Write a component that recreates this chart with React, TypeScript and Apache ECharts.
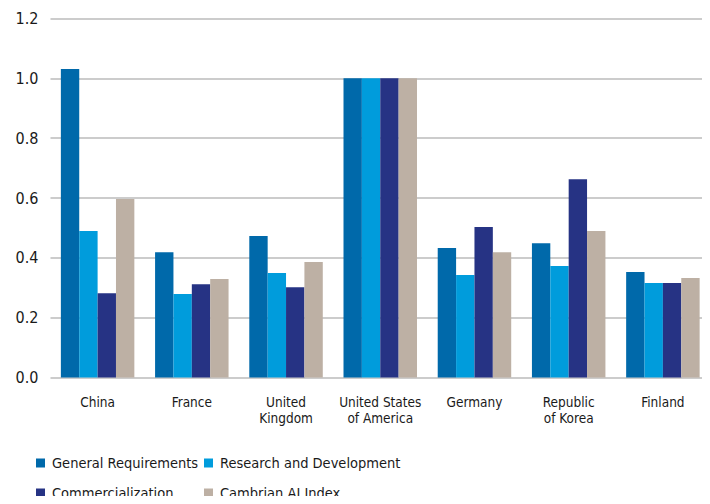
import React, { useEffect, useRef } from "react";
import * as echarts from "echarts";

const categories = [
  "China",
  "France",
  "United\nKingdom",
  "United States\nof America",
  "Germany",
  "Republic\nof Korea",
  "Finland",
];
const seriesNames = [
  "General Requirements",
  "Research and Development",
  "Commercialization",
  "Cambrian AI Index",
];
const generalRequirements = [1.031, 0.419, 0.473, 1.0, 0.433, 0.449, 0.353];
const researchDevelopment = [0.49, 0.279, 0.349, 1.0, 0.343, 0.373, 0.316];
const commercialization = [0.282, 0.312, 0.302, 1.0, 0.503, 0.663, 0.316];
const cambrianIndex = [0.597, 0.329, 0.386, 1.0, 0.419, 0.49, 0.333];
const colors = ["#0069aa", "#009cdc", "#263384", "#bdb0a4"];

const FONT = "'DejaVu Sans Condensed', 'Liberation Sans', sans-serif";

export default function App() {
  const ref = useRef<HTMLDivElement>(null);
  useEffect(() => {
    if (!ref.current) return;
    const chart = echarts.init(ref.current, null, { renderer: "svg" });
    const values = [generalRequirements, researchDevelopment, commercialization, cambrianIndex];
    const legendPos = [
      { left: 36, top: 453 },
      { left: 204, top: 453 },
      { left: 36, top: 483 },
      { left: 204, top: 483 },
    ];
    chart.setOption({
      animation: false,
      color: colors,
      grid: { left: 50.5, top: 18.5, width: 665, height: 359, containLabel: false },
      legend: seriesNames.map((n, i) => ({
        data: [n],
        left: legendPos[i].left,
        top: legendPos[i].top,
        padding: 0,
        itemWidth: 9,
        itemHeight: 9,
        itemGap: 8,
        icon: "rect",
        selectedMode: false,
        textStyle: { fontFamily: FONT, fontSize: 14.5, color: "#1a1a1a", lineHeight: 20, padding: [0, 0, 0, 2] },
      })),
      xAxis: {
        type: "category",
        data: categories,
        axisLine: { show: false },
        axisTick: { show: false },
        axisLabel: {
          interval: 0,
          margin: 16,
          fontFamily: FONT,
          fontSize: 13.5,
          lineHeight: 16,
          color: "#1a1a1a",
        },
      },
      yAxis: {
        type: "value",
        min: 0,
        max: 1.2,
        interval: 0.2,
        axisLine: { show: false },
        axisTick: { show: false },
        splitLine: { lineStyle: { color: "#cccccc", width: 2 } },
        axisLabel: {
          margin: 12,
          fontFamily: FONT,
          fontSize: 16,
          color: "#1a1a1a",
          formatter: (v: number) => v.toFixed(1),
        },
      },
      series: seriesNames.map((n, i) => ({
        name: n,
        type: "bar",
        data: values[i],
        barGap: "0%",
        barCategoryGap: "22%",
        itemStyle: { color: colors[i] },
      })),
    });
    return () => chart.dispose();
  }, []);
  return <div ref={ref} style={{ width: 710, height: 504, margin: -8 }} />;
}
